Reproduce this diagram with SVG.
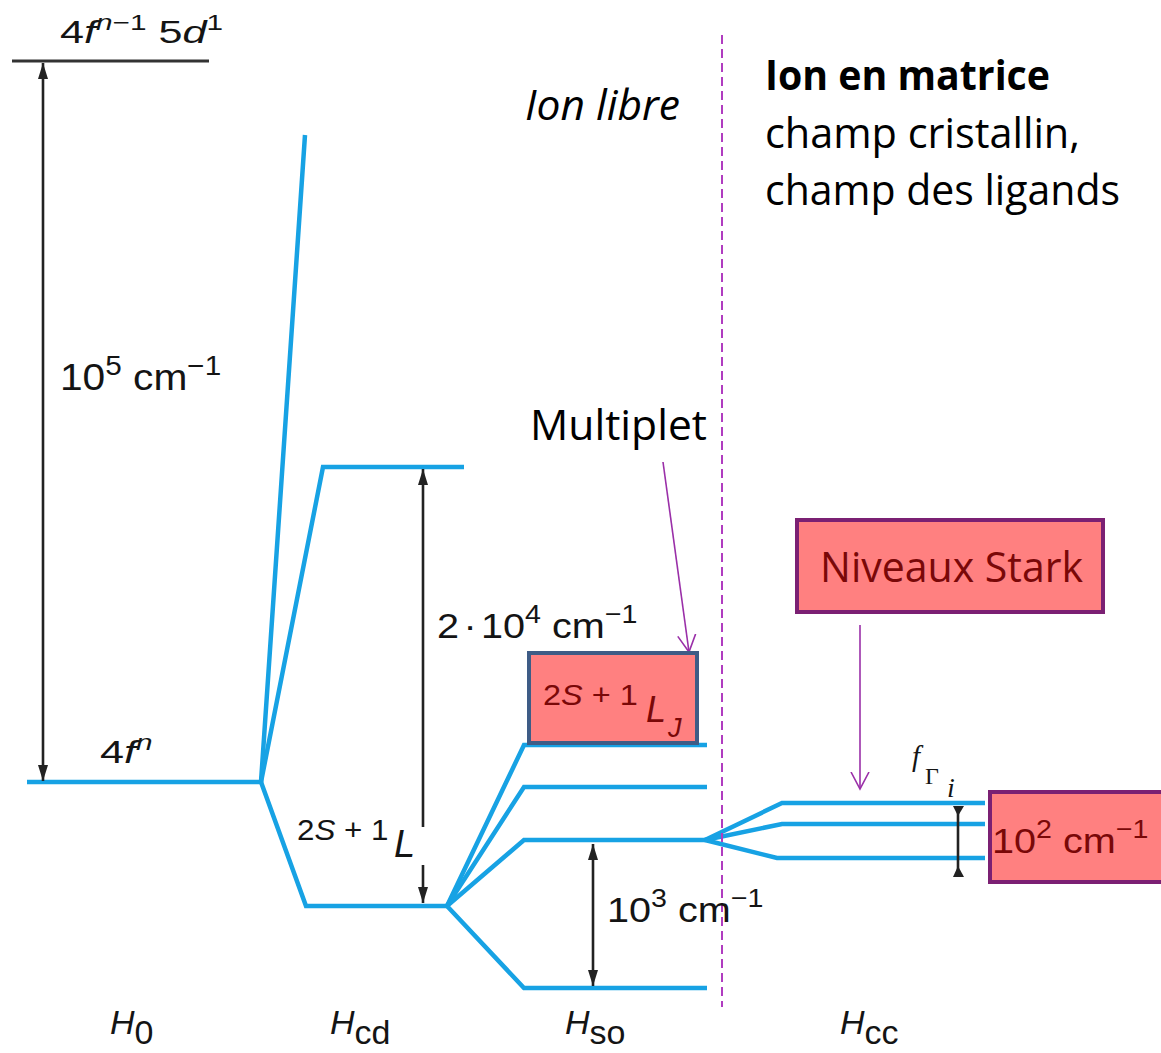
<svg xmlns="http://www.w3.org/2000/svg" width="1161" height="1053" viewBox="0 0 1161 1053">
<style>
.lvl{fill:none;stroke:#17A2E4;stroke-width:4.5;stroke-linejoin:miter}
.blk{fill:none;stroke:#222;stroke-width:2.6}
.pur{fill:none;stroke:#9A2FA8;stroke-width:1.6}
.sci{font-family:"Liberation Sans",Arial,sans-serif;fill:#141414}
.ser{font-family:"Liberation Serif","Times New Roman",serif;fill:#141414}
.cal{font-family:"Open Sans","Noto Sans",sans-serif;fill:#000}
.box{fill:#FF8080;stroke-width:4}
.red{fill:#7A0808}
</style>
<defs>
<marker id="ah" viewBox="0 0 16 12" refX="16" refY="6" markerWidth="16" markerHeight="12" markerUnits="userSpaceOnUse" orient="auto-start-reverse"><path d="M0,1 L16,6 L0,11 z" fill="#222"/></marker>
<marker id="pv" viewBox="0 0 20 20" refX="17" refY="10" markerWidth="20" markerHeight="20" markerUnits="userSpaceOnUse" orient="auto"><path d="M0,1 L17,10 L0,19" fill="none" stroke="#9A2FA8" stroke-width="1.6"/></marker>
</defs>
<rect width="1161" height="1053" fill="#fff"/>

<g id="levels">
<line x1="12" y1="61" x2="209" y2="61" stroke="#333" stroke-width="3"/>
<polyline class="lvl" points="27,782 261,782 305,135"/>
<polyline class="lvl" points="261,782 323,467 464,467"/>
<polyline class="lvl" points="261,782 306,906 447,906"/>
<polyline class="lvl" points="447,906 524,745 707,745"/>
<polyline class="lvl" points="447,906 524,787 707,787"/>
<polyline class="lvl" points="447,906 524,840 705,840"/>
<polyline class="lvl" points="447,906 524,988 707,988"/>
<polyline class="lvl" points="705,840 782,803 985,803"/>
<polyline class="lvl" points="705,840 782,824 985,824"/>
<polyline class="lvl" points="705,840 777,858 985,858"/>
</g>

<line id="separator" x1="722" y1="35" x2="722" y2="1007" stroke="#B03CC0" stroke-width="2" stroke-dasharray="9,5"/>

<g id="connectors">
<line class="blk" x1="43" y1="63" x2="43" y2="781" marker-start="url(#ah)" marker-end="url(#ah)"/>
<line class="blk" x1="423" y1="469" x2="423" y2="827" marker-start="url(#ah)"/>
<line class="blk" x1="423" y1="865" x2="423" y2="903" marker-end="url(#ah)"/>
<line class="blk" x1="593" y1="844" x2="593" y2="986" marker-start="url(#ah)" marker-end="url(#ah)"/>
<line class="blk" x1="958" y1="806" x2="958" y2="877"/>
<polygon points="953,806 964,806 958,816" fill="#222"/>
<polygon points="953,877 964,877 958,866" fill="#222"/>
<line class="pur" x1="663" y1="462" x2="689" y2="652" marker-end="url(#pv)"/>
<line class="pur" x1="860" y1="625" x2="860" y2="789" marker-end="url(#pv)"/>
</g>

<g id="label-4fn1-5d1">
<text class="sci" font-size="32" transform="translate(60,43) scale(1.35,1)">4<tspan font-style="italic">f</tspan><tspan font-size="22" dy="-13" font-style="italic">n</tspan><tspan font-size="22">−1</tspan><tspan dy="13"> 5</tspan><tspan font-style="italic">d</tspan><tspan font-size="22" dy="-13">1</tspan></text>
</g>
<g id="label-4fn">
<text class="sci" font-size="32" transform="translate(100,763) scale(1.35,1)">4<tspan font-style="italic">f</tspan><tspan font-size="22" dy="-13" font-style="italic">n</tspan></text>
</g>
<g id="label-1e5">
<text class="sci" font-size="37" transform="translate(60,390) scale(1.1,1)">10<tspan font-size="27" dy="-15">5</tspan><tspan dy="15"> cm</tspan><tspan font-size="27" dy="-15">−1</tspan></text>
</g>
<g id="label-2e4">
<text class="sci" font-size="36" transform="translate(437,638) scale(1.1,1)">2<tspan dx="4">·</tspan><tspan dx="4">10</tspan><tspan font-size="26" dy="-15">4</tspan><tspan dy="15"> cm</tspan><tspan font-size="26" dy="-15">−1</tspan></text>
</g>
<g id="label-2S1L">
<text class="sci" font-size="29" transform="translate(297,840) scale(1.08,1)">2<tspan font-style="italic">S</tspan> + 1</text>
<text class="sci" font-size="38" font-style="italic" x="394" y="857">L</text>
</g>
<g id="label-1e3">
<text class="sci" font-size="36" transform="translate(607,922) scale(1.1,1)">10<tspan font-size="26" dy="-15">3</tspan><tspan dy="15"> cm</tspan><tspan font-size="26" dy="-15">−1</tspan></text>
</g>
<g id="label-fGi">
<text class="ser" font-size="29" font-style="italic" x="912" y="766">f</text>
<text class="ser" font-size="24" x="925" y="784">Γ</text>
<text class="ser" font-size="28" font-style="italic" x="947" y="797">i</text>
</g>

<g id="box-2S1LJ">
<rect class="box" x="529" y="653" width="168" height="90" stroke="#3E5C86"/>
<text class="sci red" font-size="29" transform="translate(543,705) scale(1.12,1)">2<tspan font-style="italic">S</tspan> + 1</text>
<text class="sci red" font-size="36" font-style="italic" x="646" y="722">L</text>
<text class="sci red" font-size="27" font-style="italic" x="668" y="737">J</text>
</g>

<g id="box-1e2">
<rect class="box" x="990" y="792" width="175" height="90" stroke="#7B2073"/>
<text class="sci red" font-size="36" transform="translate(992,853) scale(1.1,1)">10<tspan font-size="26" dy="-15">2</tspan><tspan dy="15"> cm</tspan><tspan font-size="26" dy="-15">−1</tspan></text>
</g>

<g id="box-stark">
<rect class="box" x="797" y="520" width="306" height="92" stroke="#7B2073"/>
<text class="cal red" font-size="42" x="820" y="582" textLength="263" lengthAdjust="spacingAndGlyphs">Niveaux Stark</text>
</g>

<g id="label-multiplet">
<text class="cal" font-size="42" x="530" y="440" textLength="177" lengthAdjust="spacingAndGlyphs">Multiplet</text>
</g>
<g id="label-ion-libre">
<text class="cal" font-size="42" font-style="italic" x="525" y="120" textLength="155" lengthAdjust="spacingAndGlyphs">Ion libre</text>
</g>
<g id="label-ion-matrice">
<text class="cal" font-size="42" font-weight="bold" x="765" y="90" textLength="285" lengthAdjust="spacingAndGlyphs">Ion en matrice</text>
<text class="cal" font-size="42" x="765" y="148" textLength="315" lengthAdjust="spacingAndGlyphs">champ cristallin,</text>
<text class="cal" font-size="42" x="765" y="205" textLength="355" lengthAdjust="spacingAndGlyphs">champ des ligands</text>
</g>

<g id="hamiltonians">
<text class="sci" font-size="34" font-style="italic" x="110" y="1034">H<tspan font-style="normal" dy="10">0</tspan></text>
<text class="sci" font-size="34" font-style="italic" x="330" y="1034">H<tspan font-style="normal" dy="10">cd</tspan></text>
<text class="sci" font-size="34" font-style="italic" x="565" y="1034">H<tspan font-style="normal" dy="10">so</tspan></text>
<text class="sci" font-size="34" font-style="italic" x="840" y="1034">H<tspan font-style="normal" dy="10">cc</tspan></text>
</g>
</svg>
